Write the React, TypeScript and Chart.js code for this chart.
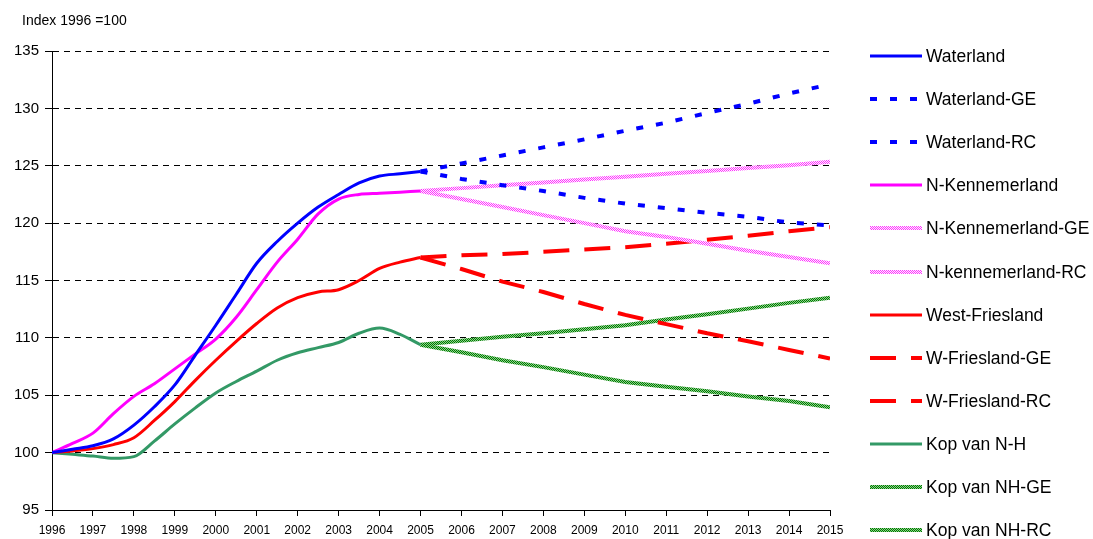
import React, { useEffect, useRef } from "react";
import { Chart, registerables } from "chart.js";

Chart.register(...registerables);

// ---- Data ----
const titleText = "Index 1996 =100";

const histYears = [1996, 1996.5, 1997, 1997.5, 1998, 1998.5, 1999, 1999.5, 2000, 2000.5, 2001, 2001.5, 2002, 2002.5, 2003, 2003.5, 2004, 2004.5, 2005];
const projYears = [2005, 2006, 2007, 2008, 2009, 2010, 2011, 2012, 2013, 2014, 2015];

const waterland = [100, 100.3, 100.6, 101.2, 102.4, 104.0, 105.9, 108.5, 111.1, 113.8, 116.5, 118.4, 120.0, 121.4, 122.5, 123.5, 124.1, 124.3, 124.5];
const nKennemerland = [100, 100.8, 101.7, 103.4, 104.9, 106.0, 107.3, 108.6, 109.9, 111.8, 114.2, 116.6, 118.6, 120.8, 122.1, 122.5, 122.6, 122.7, 122.8];
const westFriesland = [100, 100.15, 100.35, 100.7, 101.3, 102.8, 104.45, 106.3, 108.05, 109.7, 111.25, 112.6, 113.5, 114.0, 114.2, 115.0, 116.05, 116.6, 117.0];
const kopVanNH = [100, 99.85, 99.7, 99.5, 99.65, 101.0, 102.5, 103.9, 105.2, 106.2, 107.1, 108.05, 108.7, 109.15, 109.6, 110.4, 110.85, 110.3, 109.4];

const waterlandGE = [124.5, 125.2, 125.9, 126.6, 127.3, 128.05, 128.75, 129.6, 130.4, 131.3, 132.1];
const waterlandRC = [124.5, 123.85, 123.3, 122.8, 122.2, 121.7, 121.3, 120.9, 120.55, 120.05, 119.8];
const nKennemerlandGE = [122.8, 123.05, 123.3, 123.55, 123.8, 124.05, 124.3, 124.55, 124.8, 125.05, 125.35];
const nKennemerlandRC = [122.8, 122.1, 121.4, 120.7, 120.0, 119.3, 118.8, 118.2, 117.6, 117.05, 116.5];
const wFrieslandGE = [117.0, 117.2, 117.3, 117.5, 117.7, 117.9, 118.2, 118.55, 118.9, 119.3, 119.65];
const wFrieslandRC = [117.0, 116.0, 114.9, 114.0, 112.95, 112.0, 111.2, 110.4, 109.7, 108.95, 108.2];
const kopGE = [109.4, 109.75, 110.1, 110.4, 110.75, 111.1, 111.6, 112.05, 112.55, 113.05, 113.5];
const kopRC = [109.4, 108.75, 108.05, 107.45, 106.8, 106.15, 105.75, 105.35, 104.9, 104.5, 103.95];

const seriesLabels = [
  "Waterland",
  "Waterland-GE",
  "Waterland-RC",
  "N-Kennemerland",
  "N-Kennemerland-GE",
  "N-kennemerland-RC",
  "West-Friesland",
  "W-Friesland-GE",
  "W-Friesland-RC",
  "Kop van N-H",
  "Kop van NH-GE",
  "Kop van NH-RC",
];

const yMin = 95;
const yMax = 135;
const yStep = 5;
const xMin = 1996;
const xMax = 2015;
const xStep = 1;

const FONT = '"Liberation Sans", Arial, Helvetica, sans-serif';

function toPoints(xs: number[], ys: number[]) {
  return xs.map((x, i) => ({ x, y: ys[i] }));
}

function makePattern(ctx: CanvasRenderingContext2D, c1: string, c2: string) {
  const p = document.createElement("canvas");
  p.width = 2;
  p.height = 2;
  const pc = p.getContext("2d")!;
  pc.fillStyle = c2;
  pc.fillRect(0, 0, 2, 2);
  pc.fillStyle = c1;
  pc.fillRect(0, 0, 1, 1);
  pc.fillRect(1, 1, 1, 1);
  return ctx.createPattern(p, "repeat");
}

const overlayPlugin = {
  id: "overlay",
  afterDraw(chart: any) {
    const ctx: CanvasRenderingContext2D = chart.ctx;
    ctx.save();
    ctx.fillStyle = "#000";
    ctx.textBaseline = "middle";
    ctx.textAlign = "left";
    ctx.font = `14px ${FONT}`;
    ctx.fillText(titleText, 22, 21);
    chart.data.datasets.forEach((ds: any, i: number) => {
      const y = Math.round(56 + i * 43.1);
      ctx.save();
      ctx.strokeStyle = ds.borderColor;
      ctx.lineWidth = ds.borderWidth;
      ctx.setLineDash(ds.borderDash || []);
      ctx.beginPath();
      ctx.moveTo(870, y);
      ctx.lineTo(922, y);
      ctx.stroke();
      ctx.restore();
      ctx.fillStyle = "#000";
      ctx.font = `17.5px ${FONT}`;
      ctx.fillText(ds.label, 926, y + 1);
    });
    ctx.restore();
  },
};

export default function App() {
  const canvasRef = useRef<HTMLCanvasElement | null>(null);

  useEffect(() => {
    const canvas = canvasRef.current!;
    const ctx = canvas.getContext("2d")!;
    const pink = makePattern(ctx, "#FF33FF", "#FFF0FF");
    const greenPat = makePattern(ctx, "#007A00", "#8CD08C");

    const blue = "#0000FF";
    const magenta = "#FF00FF";
    const red = "#FF0000";
    const green = "#339966";

    const solid = (label: string, xs: number[], ys: number[], color: string) => ({
      label,
      data: toPoints(xs, ys),
      borderColor: color,
      backgroundColor: color,
      borderWidth: 3,
      pointRadius: 0,
      cubicInterpolationMode: "monotone",
      fill: false,
    });
    const proj = (label: string, ys: number[], color: any, width: number, dash: number[]) => ({
      label,
      data: toPoints(projYears, ys),
      borderColor: color,
      backgroundColor: color,
      borderWidth: width,
      borderDash: dash,
      pointRadius: 0,
      tension: 0,
      fill: false,
    });

    const datasets: any[] = [
      solid(seriesLabels[0], histYears, waterland, blue),
      proj(seriesLabels[1], waterlandGE, blue, 4, [7, 13]),
      proj(seriesLabels[2], waterlandRC, blue, 4, [7, 13]),
      solid(seriesLabels[3], histYears, nKennemerland, magenta),
      proj(seriesLabels[4], nKennemerlandGE, pink, 4, []),
      proj(seriesLabels[5], nKennemerlandRC, pink, 4, []),
      solid(seriesLabels[6], histYears, westFriesland, red),
      proj(seriesLabels[7], wFrieslandGE, red, 4, [26, 15]),
      proj(seriesLabels[8], wFrieslandRC, red, 4, [26, 15]),
      solid(seriesLabels[9], histYears, kopVanNH, green),
      proj(seriesLabels[10], kopGE, greenPat, 4, []),
      proj(seriesLabels[11], kopRC, greenPat, 4, []),
    ];

    const chart = new Chart(canvas, {
      type: "line",
      data: { datasets },
      options: {
        animation: false,
        responsive: false,
        maintainAspectRatio: false,
        layout: { padding: { left: 0, right: 263, top: 51, bottom: 0 } },
        plugins: {
          legend: { display: false },
          title: { display: false },
          tooltip: { enabled: false },
        },
        scales: {
          x: {
            type: "linear",
            min: xMin,
            max: xMax,
            ticks: {
              stepSize: xStep,
              color: "#000",
              font: { family: FONT, size: 12 },
              padding: 7,
              maxRotation: 0,
              autoSkip: false,
              callback: (v: any) => String(v),
            },
            grid: {
              display: true,
              drawOnChartArea: false,
              drawTicks: true,
              tickLength: 6,
              tickColor: "#000",
              tickWidth: 1,
            },
            border: { display: true, color: "#000", width: 1 },
            afterFit: (scale: any) => {
              scale.height = 29;
            },
          },
          y: {
            type: "linear",
            min: yMin,
            max: yMax,
            ticks: {
              stepSize: yStep,
              color: "#000",
              font: { family: FONT, size: 15 },
              padding: 6,
            },
            grid: {
              display: true,
              color: "#000",
              lineWidth: 1,
              drawTicks: true,
              tickLength: 7,
              tickColor: "#000",
              tickWidth: 1,
            },
            border: { display: true, color: "#000", width: 1, dash: [6, 5] },
            afterFit: (scale: any) => {
              scale.width = 52;
            },
          },
        },
      } as any,
      plugins: [overlayPlugin],
    });

    return () => {
      chart.destroy();
    };
  }, []);

  return (
    <div style={{ position: "fixed", left: 0, top: 0, width: 1093, height: 539, background: "#fff" }}>
      <canvas ref={canvasRef} width={1093} height={539} style={{ display: "block", width: 1093, height: 539 }} />
    </div>
  );
}
